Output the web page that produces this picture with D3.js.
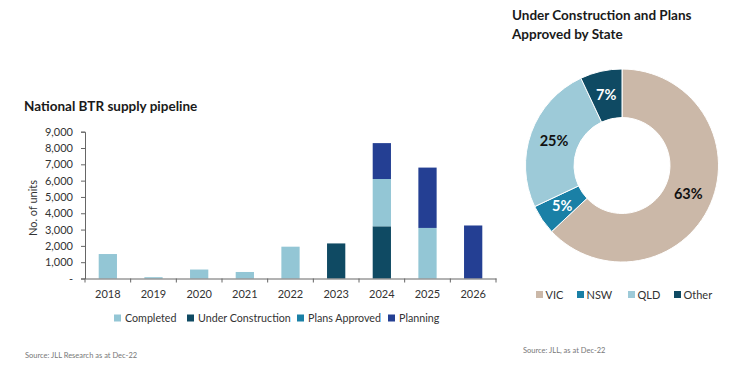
<!DOCTYPE html>
<html>
<head>
<meta charset="utf-8">
<script src="https://cdn.jsdelivr.net/npm/d3@7"></script>
<style>
  body { margin: 0; background: #fff; }
  svg { font-family: Lato, 'Open Sans', sans-serif; }
</style>
</head>
<body>
<div id="chart"></div>
<script>
// bar chart data
const years = ['2018', '2019', '2020', '2021', '2022', '2023', '2024', '2025', '2026']
const series = ['Completed', 'Under Construction', 'Plans Approved', 'Planning']
const completed = [1500, 80, 550, 400, 1950, 0, 2900, 3100, 0]
const underConstruction = [0, 0, 0, 0, 0, 2150, 3200, 0, 0]
const plansApproved = [0, 0, 0, 0, 0, 0, 0, 0, 0]
const planning = [0, 0, 0, 0, 0, 0, 2200, 3700, 3250]
const yTicks = [0, 1000, 2000, 3000, 4000, 5000, 6000, 7000, 8000, 9000]

// donut data
const states = ['VIC', 'NSW', 'QLD', 'Other']
const shares = [63, 5, 25, 7]

const barColors = ['#93c6d5', '#0f4a63', '#1a80a6', '#243f93']
const stateColors = ['#cbb8a8', '#1a80a6', '#9dcad8', '#0f4a63']
const labelColors = ['#111', '#fff', '#111', '#fff']

const width = 744
const height = 367

const svg = d3.select('#chart').append('svg')
  .attr('width', width)
  .attr('height', height)

// ---- left: stacked bars ----
svg.append('text')
  .attr('x', 24).attr('y', 111)
  .attr('font-size', 13.5).attr('font-weight', 700).attr('fill', '#1a1a1a')
  .text('National BTR supply pipeline')

const x = d3.scaleBand()
  .domain(years)
  .range([85, 496])
  .paddingInner(0.6)
  .paddingOuter(0.3)

const y = d3.scaleLinear()
  .domain([0, 9000])
  .range([278.5, 131.7])

const rows = years.map((yr, i) => ({
  year: yr,
  Completed: completed[i],
  'Under Construction': underConstruction[i],
  'Plans Approved': plansApproved[i],
  Planning: planning[i]
}))

// stack order bottom-up: Under Construction, Completed, Plans Approved, Planning
const stack = d3.stack()
  .keys(['Under Construction', 'Completed', 'Plans Approved', 'Planning'])
const layers = stack(rows)

const color = d3.scaleOrdinal().domain(series).range(barColors)

svg.append('g')
  .selectAll('g')
  .data(layers)
  .enter().append('g')
  .attr('fill', d => color(d.key))
  .selectAll('rect')
  .data(d => d)
  .enter().append('rect')
  .attr('x', d => x(d.data.year))
  .attr('width', x.bandwidth())
  .attr('y', d => y(d[1]))
  .attr('height', d => y(d[0]) - y(d[1]))

// y axis
const yAxis = svg.append('g')
  .attr('transform', 'translate(85,0)')
  .call(d3.axisLeft(y).tickValues(yTicks).tickSize(4).tickPadding(8)
    .tickFormat(d => d === 0 ? '-' : d3.format(',')(d)))
yAxis.select('.domain').attr('stroke', '#666')
yAxis.selectAll('.tick line').attr('stroke', '#666')
yAxis.selectAll('text').attr('font-size', 11).attr('fill', '#333')
  .attr('font-family', 'Lato, sans-serif')

// x axis: labels centred, ticks at category boundaries
const xAxis = svg.append('g')
  .attr('transform', 'translate(0,278.5)')
  .call(d3.axisBottom(x).tickSize(0).tickPadding(12))
xAxis.select('.domain').attr('stroke', '#666')
xAxis.selectAll('text').attr('font-size', 11).attr('fill', '#333')
  .attr('font-family', 'Lato, sans-serif')

const gap = (x.step() - x.bandwidth()) / 2
const bounds = years.map(d => x(d) - gap).concat([x(years[years.length - 1]) + x.bandwidth() + gap])
svg.append('g')
  .selectAll('line')
  .data(bounds)
  .enter().append('line')
  .attr('x1', d => d).attr('x2', d => d)
  .attr('y1', 278.5).attr('y2', 282.5)
  .attr('stroke', '#666')

svg.append('text')
  .attr('transform', 'translate(37,208) rotate(-90)')
  .attr('text-anchor', 'middle')
  .attr('font-size', 11).attr('fill', '#333')
  .text('No. of units')

// legend
const legendX = [114, 187, 297, 388]
const legend = svg.append('g')
  .selectAll('g')
  .data(series)
  .enter().append('g')
  .attr('transform', (d, i) => `translate(${legendX[i]},318)`)
legend.append('rect')
  .attr('x', 0).attr('y', -3.5).attr('width', 7).attr('height', 7)
  .attr('fill', d => color(d))
legend.append('text')
  .attr('x', 11).attr('y', 4)
  .attr('font-size', 10.7).attr('fill', '#333')
  .text(d => d)

svg.append('text')
  .attr('x', 25).attr('y', 358)
  .attr('font-size', 7.5).attr('fill', '#777')
  .text('Source: JLL Research as at Dec-22')

// ---- right: donut ----
svg.append('text')
  .attr('font-size', 13.5).attr('font-weight', 700).attr('fill', '#1a1a1a')
  .selectAll('tspan')
  .data(['Under Construction and Plans', 'Approved by State'])
  .enter().append('tspan')
  .attr('x', 512).attr('y', (d, i) => 20 + i * 18.5)
  .text(d => d)

const cx = 622
const cy = 165.5
const outerR = 96.5
const innerR = 48

const pie = d3.pie().sort(null).value(d => d.v)
const arcs = pie(states.map((s, i) => ({ s: s, v: shares[i], i: i })))
const arc = d3.arc().innerRadius(innerR).outerRadius(outerR)

const stateColor = d3.scaleOrdinal().domain(states).range(stateColors)

const donut = svg.append('g').attr('transform', `translate(${cx},${cy})`)
donut.selectAll('path')
  .data(arcs)
  .enter().append('path')
  .attr('d', arc)
  .attr('fill', d => stateColor(d.data.s))
  .attr('stroke', '#fff')
  .attr('stroke-width', 1)

donut.selectAll('text')
  .data(arcs)
  .enter().append('text')
  .attr('transform', d => `translate(${arc.centroid(d)})`)
  .attr('text-anchor', 'middle')
  .attr('dy', '0.35em')
  .attr('font-size', 14.5).attr('font-weight', 700)
  .attr('fill', d => labelColors[d.data.i])
  .text(d => d.data.v + '%')

const stateLegendX = [536, 577, 628, 674]
const sLegend = svg.append('g')
  .selectAll('g')
  .data(states)
  .enter().append('g')
  .attr('transform', (d, i) => `translate(${stateLegendX[i]},294.5)`)
sLegend.append('rect')
  .attr('x', 0).attr('y', -3.5).attr('width', 7).attr('height', 7)
  .attr('fill', d => stateColor(d))
sLegend.append('text')
  .attr('x', 9.5).attr('y', 4)
  .attr('font-size', 11).attr('fill', '#333')
  .text(d => d)

svg.append('text')
  .attr('x', 523).attr('y', 353)
  .attr('font-size', 7.5).attr('fill', '#777')
  .text('Source: JLL, as at Dec-22')
</script>
</body>
</html>
